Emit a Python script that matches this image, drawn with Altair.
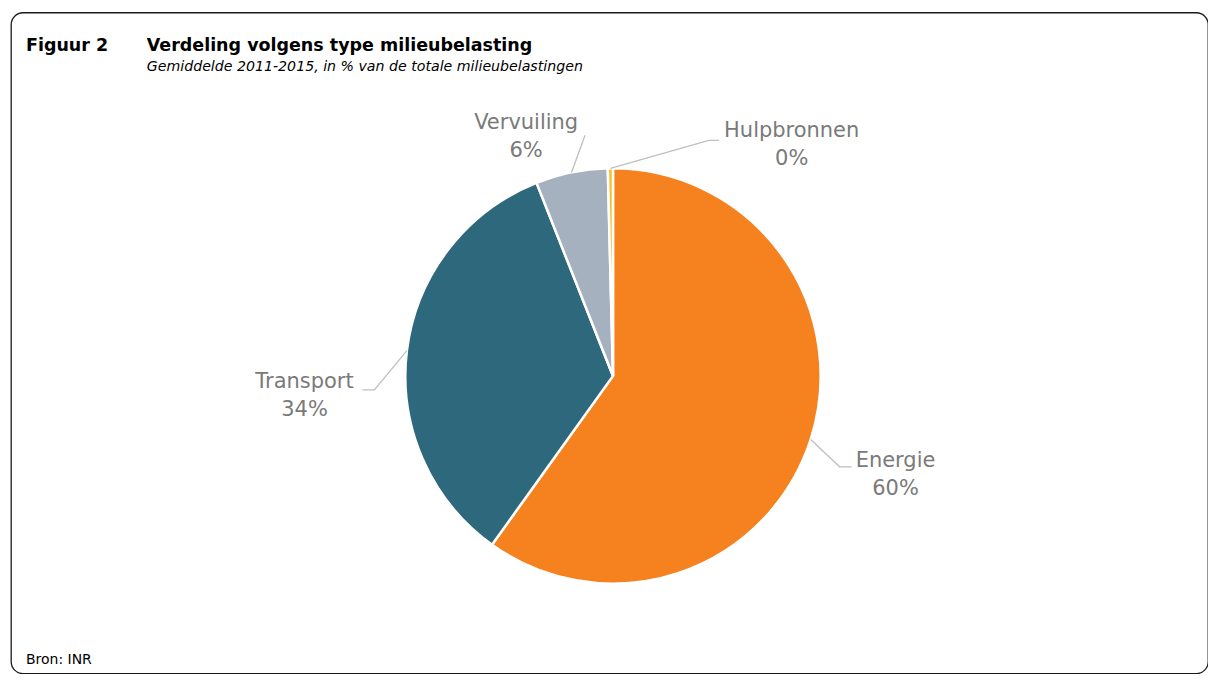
import math
import altair as alt
import pandas as pd

# ---- data ----
categories = ["Energie", "Transport", "Vervuiling", "Hulpbronnen"]
values = [59.9, 34.1, 5.6, 0.4]
colors = ["#F5821F", "#2D687D", "#A6B1BF", "#F9C02D"]

# ---- layout (pixels relative to the pie centre) ----
W, H = 1199, 662
CX, CY = 603, 364
R = 208
label_offsets = [(283, 85), (-309, 6), (-87, -253), (179, -245)]
elbow_offsets = [(227, 91), (-239, 14), (-28, -241), (96, -236)]
tail_offsets = [(239, 91), (-251, 14), (-28, -241), (106, -236)]

total = sum(values)
rows, line_rows, label_rows = [], [], []
cum = 0.0
for i, (c, v) in enumerate(zip(categories, values)):
    start, end = cum, cum + v
    cum = end
    rows.append({"cat": c, "start": start, "end": end, "order": i, "cx": 0, "cy": 0})
    mid = 2 * math.pi * (start + v / 2) / total
    sx, sy = R * math.sin(mid), -R * math.cos(mid)
    pts = [(sx, sy), elbow_offsets[i], tail_offsets[i]]
    for k, (px, py) in enumerate(pts):
        line_rows.append({"cat": c, "k": k, "x": px, "y": py})
    lx, ly = label_offsets[i]
    label_rows.append({"cat": c, "x": lx, "y": ly, "label": f"{c}\n{round(v):.0f}%"})

pie_df = pd.DataFrame(rows)
line_df = pd.DataFrame(line_rows)
label_df = pd.DataFrame(label_rows)

xs = alt.Scale(domain=[-CX, W - CX], nice=False, zero=False)
ys = alt.Scale(domain=[-CY, H - CY], nice=False, zero=False, reverse=True)

arcs = alt.Chart(pie_df).mark_arc(radius=R, stroke="white", strokeWidth=2.5).encode(
    x=alt.X("cx:Q", scale=xs, axis=None),
    y=alt.Y("cy:Q", scale=ys, axis=None),
    theta=alt.Theta("start:Q", scale=alt.Scale(domain=[0, total], range=[0, 2 * math.pi])),
    theta2="end:Q",
    color=alt.Color("cat:N", scale=alt.Scale(domain=categories, range=colors), legend=None),
)

leaders = alt.Chart(line_df).mark_line(color="#BFBFBF", strokeWidth=1.3).encode(
    x=alt.X("x:Q", scale=xs, axis=None),
    y=alt.Y("y:Q", scale=ys, axis=None),
    detail="cat:N",
    order="k:Q",
)

labels = alt.Chart(label_df).mark_text(
    font="DejaVu Sans", fontSize=21, color="#7A7A7A", lineBreak="\n", lineHeight=28,
    align="center", baseline="middle",
).encode(
    x=alt.X("x:Q", scale=xs, axis=None),
    y=alt.Y("y:Q", scale=ys, axis=None),
    text="label:N",
)


def txt(s, x, y, **kw):
    return alt.Chart(pd.DataFrame({"t": [s]})).mark_text(
        align="left", baseline="alphabetic", font="DejaVu Sans", color="#000000", **kw
    ).encode(x=alt.value(x), y=alt.value(y), text="t:N")


fig = txt("Figuur 2", 15, 39, fontSize=17.5, fontWeight="bold")
title = txt("Verdeling volgens type milieubelasting", 136, 39, fontSize=17.5, fontWeight="bold")
subtitle = txt("Gemiddelde 2011-2015, in % van de totale milieubelastingen", 136, 59,
               fontSize=14.2, fontStyle="italic")
source = txt("Bron: INR", 15, 653, fontSize=14)

chart = alt.layer(arcs, leaders, labels, fig, title, subtitle, source).properties(
    width=W, height=H, padding={"left": 3, "top": 4, "right": 0, "bottom": 0},
    background="white",
).configure_view(stroke="#1a1a1a", strokeWidth=1.3, cornerRadius=12)

chart.save("out.html", embed_options={"renderer": "svg", "actions": False})
